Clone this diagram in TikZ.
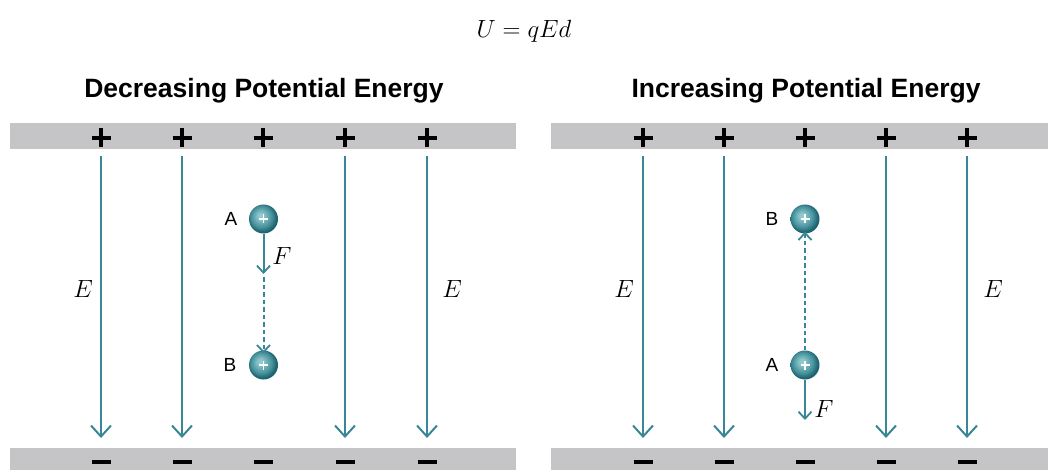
\documentclass[tikz,border=0pt]{standalone}
\usepackage{fontspec}
\setmainfont{Liberation Sans}
\usetikzlibrary{arrows.meta}
\definecolor{plategray}{RGB}{197,197,199}
\definecolor{fieldcol}{RGB}{56,134,150}
\definecolor{ballhi}{RGB}{150,205,210}
\definecolor{ballmid}{RGB}{70,145,155}
\definecolor{balldark}{RGB}{30,100,112}
\pgfdeclareradialshading{tealball}{\pgfpoint{-6bp}{6bp}}{color(0bp)=(ballhi); color(6bp)=(ballhi!80!ballmid); color(18bp)=(ballmid); color(25bp)=(balldark); color(50bp)=(balldark)}
\tikzset{
  plate/.style={fill=plategray, draw=none},
  fieldline/.style={draw=fieldcol, line width=2pt, -{Straight Barb[length=11pt,width=20pt,line width=2pt]}},
  forcearrow/.style={draw=fieldcol, line width=2pt, -{Straight Barb[length=7pt,width=13pt,line width=1.8pt]}},
  pathline/.style={draw=fieldcol, line width=2pt, dash pattern=on 4.5pt off 3pt, -{Straight Barb[length=7pt,width=13pt,line width=1.8pt]}},
  signline/.style={draw=black, line width=3.2pt},
  charge/.style={circle, minimum size=29pt, inner sep=0pt, shading=tealball},
  ptlabel/.style={font=\fontsize{19}{19}\selectfont},
  elabel/.style={font=\fontsize{23}{23}\selectfont},
  title/.style={font=\fontsize{26.5}{27}\selectfont\bfseries}
}
\newcommand{\chargeplus}[1]{%
  \draw[white, line width=1.8pt] ([xshift=-4.5pt]#1.center) -- ([xshift=4.5pt]#1.center);
  \draw[white, line width=1.8pt] ([yshift=-4.5pt]#1.center) -- ([yshift=4.5pt]#1.center);}
\begin{document}
\begin{tikzpicture}[x=1pt, y=-1pt]
\useasboundingbox (0,0) rectangle (1048,470);
% formula
\node[font=\fontsize{27}{27}\selectfont] (formula) at (524,31) {$U=qEd$};
% titles
\node[title] (tleft) at (264,91) {Decreasing Potential Energy};
\node[title] (tright) at (806,91) {Increasing Potential Energy};
% plates
\fill[plate] (10,123) rectangle (516,149);
\fill[plate] (10,448) rectangle (516,470);
\fill[plate] (551,123) rectangle (1048,149);
\fill[plate] (551,448) rectangle (1048,470);
% signs
\foreach \x in {101,182,263,345,427,643,724,805,886,967}{
  \draw[signline] (\x-9.5,138) -- (\x+9.5,138);
  \draw[signline] (\x,128.5) -- (\x,147.5);
  \draw[signline] (\x-9.5,462) -- (\x+9.5,462);
}
% field lines
\foreach \x [count=\i] in {101,182,345,427,643,724,886,967}{
  \coordinate (ft\i) at (\x,156);
  \coordinate (fb\i) at (\x,438);
  \draw[fieldline] (ft\i) -- (fb\i);
}
\node[elabel] (E1) at (83,289) {$E$};
\node[elabel] (E2) at (452,289) {$E$};
\node[elabel] (E3) at (624,289) {$E$};
\node[elabel] (E4) at (993,289) {$E$};
% left panel charges
\node[charge] (LA) at (263.5,219) {};
\node[charge] (LB) at (263.5,365) {};
\chargeplus{LA}
\chargeplus{LB}
\node[ptlabel] (LAl) at (231,219) {A};
\node[ptlabel] (LBl) at (230,365) {B};
\coordinate (LFend) at (263.5,274);
\coordinate (LDstart) at (263.5,277);
\draw[forcearrow] (LA.south) -- (LFend);
\draw[pathline] (LDstart) -- ([yshift=-3pt]LB.north);
\node[elabel] (LF) at (282,256) {$F$};
% right panel charges
\node[charge] (RB) at (805,219) {};
\node[charge] (RA) at (805,365) {};
\chargeplus{RB}
\chargeplus{RA}
\node[ptlabel] (RBl) at (772,219) {B};
\node[ptlabel] (RAl) at (772,365) {A};
\coordinate (RFend) at (805,420);
\draw[pathline] (RA.north) -- ([yshift=2pt]RB.south);
\draw[forcearrow] (RA.south) -- (RFend);
\node[elabel] (RF) at (824,409) {$F$};
\end{tikzpicture}
\end{document}
